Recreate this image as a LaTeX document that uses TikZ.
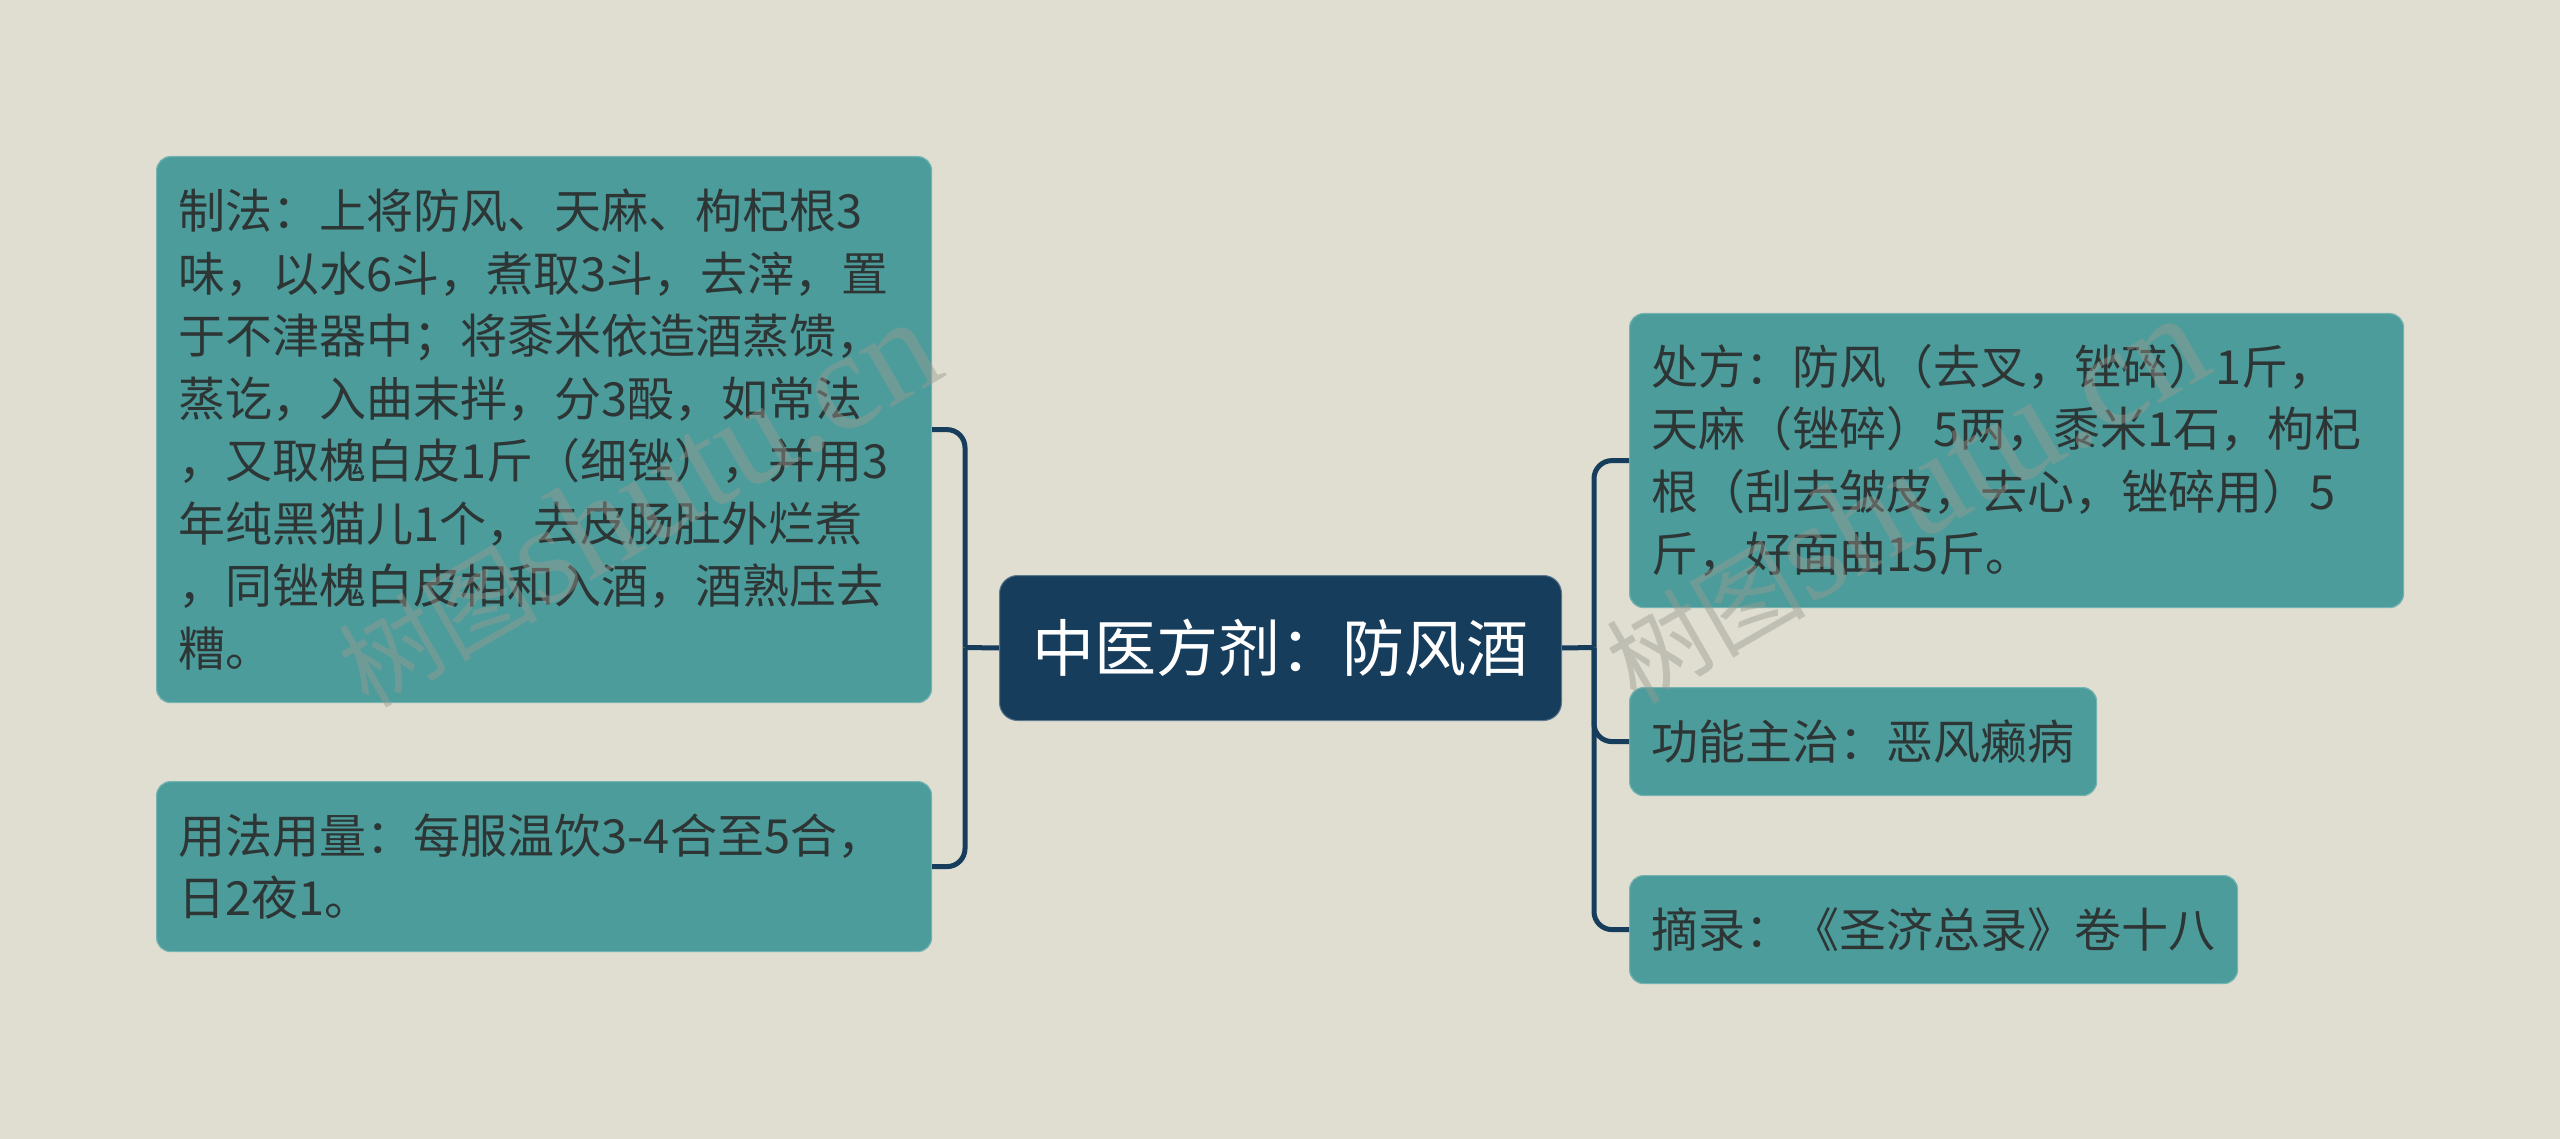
\documentclass[tikz,border=0pt]{standalone}
\usepackage{fontspec}
\newfontfamily\cjk{Noto Sans CJK SC}
\newfontfamily\wmlatin{Liberation Serif}
\definecolor{bgc}{HTML}{E0DED0}
\definecolor{leaffill}{HTML}{4D9C9C}
\definecolor{leafedge}{HTML}{74B3B1}
\definecolor{navy}{HTML}{173D5C}
\definecolor{txt}{HTML}{2D3535}
\definecolor{wmgray}{HTML}{9A9A90}
\begin{document}
\begin{tikzpicture}[x=1pt,y=-1pt,
  leaf/.style={draw=leafedge, line width=1.2pt, fill=leaffill, rounded corners=14pt,
    anchor=north west, inner xsep=22pt, inner ysep=0pt, align=left, text=txt,
    font=\cjk\fontsize{47}{62.5}\selectfont},
  root/.style={fill=navy, draw=navy!70!white, line width=1pt, rounded corners=18pt, anchor=north west,
    inner sep=0pt, align=center, text=white, font=\cjk\fontsize{62}{70}\selectfont},
  conn/.style={draw=navy, line width=5pt},
  wm/.style={rotate=30, anchor=base west, inner sep=0pt, text=wmgray, text opacity=0.45}
]
\useasboundingbox (0,0) rectangle (2560,1139);
\fill[bgc] (0,0) rectangle (2560,1139);

% root
\node[root, minimum width=562pt, minimum height=145pt] (ctr) at (999,575) {中医方剂：防风酒};

% left leaves
\node[leaf, minimum width=775pt, minimum height=546pt, text width=731pt] (lt) at (156,156)
  {制法：上将防风、天麻、枸杞根3\\味，以水6斗，煮取3斗，去滓，置\\于不津器中；将黍米依造酒蒸馈，\\蒸讫，入曲末拌，分3酘，如常法\\，又取槐白皮1斤（细锉），并用3\\年纯黑猫儿1个，去皮肠肚外烂煮\\，同锉槐白皮相和入酒，酒熟压去\\糟。};
\node[leaf, minimum width=775pt, minimum height=170pt, text width=731pt] (lb) at (156,781)
  {用法用量：每服温饮3-4合至5合，\\日2夜1。};

% right leaves
\node[leaf, minimum width=774pt, minimum height=294pt, text width=730pt] (rt) at (1629,313)
  {处方：防风（去叉，锉碎）1斤，\\天麻（锉碎）5两，黍米1石，枸杞\\根（刮去皱皮，去心，锉碎用）5\\斤，好面曲15斤。};
\node[leaf, minimum width=467pt, minimum height=108pt, text width=423pt] (rm) at (1629,687)
  {功能主治：恶风癞病};
\node[leaf, minimum width=608pt, minimum height=108pt, text width=564pt] (rb) at (1629,875)
  {摘录：《圣济总录》卷十八};

% connectors
\coordinate (lj) at (965,647.5);
\coordinate (rj) at (1594,647.5);
\draw[conn] (ctr.west) -- (lj);
\draw[conn, rounded corners=18pt] (lt.east) -| (lj);
\draw[conn, rounded corners=18pt] (lb.east) -| (lj);
\draw[conn] (ctr.east) -- (rj);
\draw[conn, rounded corners=18pt] (rt.west) -| (rj);
\draw[conn, rounded corners=18pt] (rm.west) -| (rj);
\draw[conn, rounded corners=18pt] (rb.west) -| (rj);

% watermarks
\node[wm] (wm1) at (368,710) {{\cjk\fontsize{100}{100}\selectfont 树图}{\wmlatin\fontsize{140}{140}\selectfont shutu.cn}};
\node[wm] (wm2) at (1636,706) {{\cjk\fontsize{100}{100}\selectfont 树图}{\wmlatin\fontsize{140}{140}\selectfont shutu.cn}};
\end{tikzpicture}
\end{document}
